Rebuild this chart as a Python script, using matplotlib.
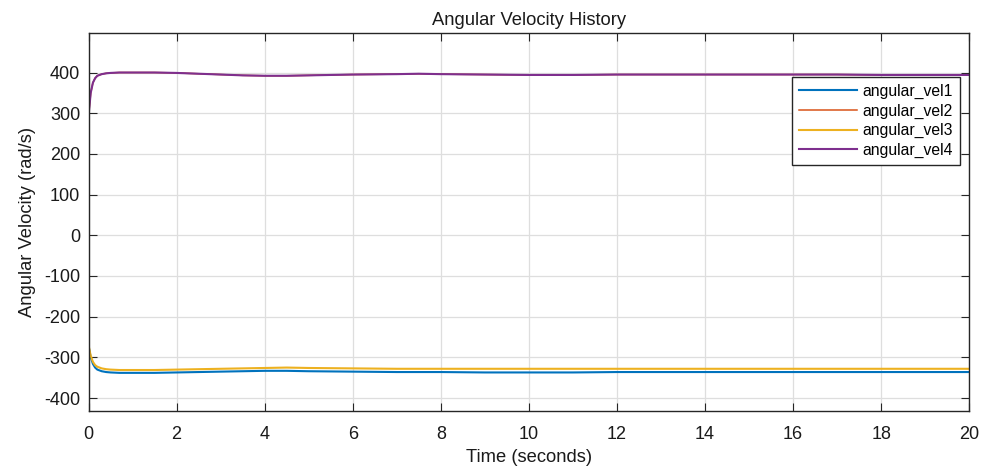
import matplotlib.pyplot as plt

plt.rcParams['font.family'] = ['Liberation Sans', 'DejaVu Sans']
plt.rcParams['axes.unicode_minus'] = False

# readings (time in s, angular velocity in rad/s)
t = [0, 0.05, 0.1, 0.15, 0.2, 0.3, 0.4, 0.5, 0.7, 1.0, 1.5, 2, 2.5, 3, 3.5, 4, 4.5,
     5, 6, 7, 7.5, 8, 9, 10, 11, 12, 13, 14, 15, 16, 17, 18, 19, 20]
vel1 = [-272, -300, -316, -325, -330, -334, -336, -337, -338, -338, -338, -337, -336, -335,
        -334, -333, -333, -334, -335, -336, -336, -336, -337, -337, -337, -336, -336, -336,
        -336, -336, -336, -336, -336, -336]
vel3 = [-270, -296, -311, -319, -323, -327, -329, -330, -331, -331, -331, -330, -329, -328,
        -327, -326, -325, -326, -327, -328, -328, -328, -328, -328, -328, -328, -328, -328,
        -328, -328, -328, -328, -328, -328]
vel4 = [293, 350, 375, 386, 392, 396, 398, 399, 400, 400, 400, 399, 397, 395,
        393, 392, 392, 393, 395, 396, 397, 396, 395, 394, 394, 395, 395, 395,
        395, 395, 395, 394, 394, 394]
vel2 = vel4  # hidden under vel4 in the reference

labels = ['angular_vel1', 'angular_vel2', 'angular_vel3', 'angular_vel4']
colors = ['#0072BD', '#D95319', '#EDB120', '#7E2F8E']
widths = [1.5, 1.1, 1.5, 1.5]

fig = plt.figure(figsize=(9.89, 4.72), dpi=100)
ax = fig.add_axes([0.0895, 0.129, 0.8905, 0.801])

for v, lab, col, w in zip([vel1, vel2, vel3, vel4], labels, colors, widths):
    ax.plot(t, v, color=col, lw=w, label=lab)

ax.set_xlim(0, 20)
ax.set_ylim(-432, 497)
ax.set_xticks(range(0, 21, 2))
ax.set_yticks(range(-400, 401, 100))
ax.grid(True, color='#dedede', lw=0.9)
ax.set_axisbelow(True)
ax.tick_params(direction='in', top=True, right=True, labelsize=13,
               length=6, color='#262626', labelcolor='#1a1a1a')
ax.tick_params(axis='x', pad=11)
ax.tick_params(axis='y', pad=6)
for s in ax.spines.values():
    s.set_color('#262626')
    s.set_linewidth(1.0)

ax.set_title('Angular Velocity History', fontsize=13.2, color='#1a1a1a', pad=6)
ax.set_xlabel('Time (seconds)', fontsize=13.2, color='#1a1a1a', labelpad=4)
ax.set_ylabel('Angular Velocity (rad/s)', fontsize=13.2, color='#1a1a1a', labelpad=6)

leg = ax.legend(loc='upper right', bbox_to_anchor=(0.99, 0.884), fontsize=11.3,
                frameon=True, fancybox=False, edgecolor='#262626', framealpha=1,
                handlelength=3.7, borderpad=0.45, labelspacing=0.28, handletextpad=0.35,
                borderaxespad=0)
leg.get_frame().set_linewidth(1.0)

fig.savefig('out.png', dpi=100)
